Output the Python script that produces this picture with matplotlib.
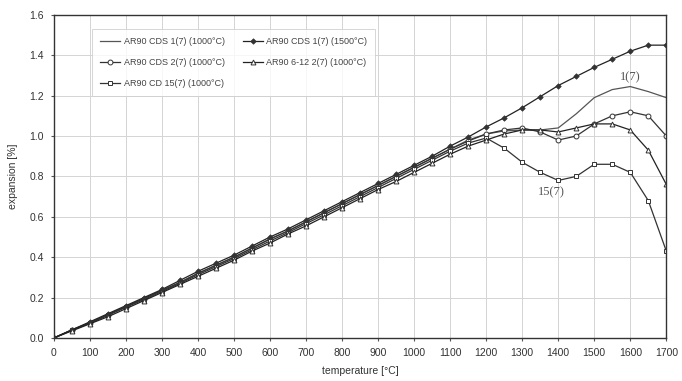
import numpy as np
import matplotlib.pyplot as plt

plt.rcParams['font.family'] = ['Liberation Sans', 'DejaVu Sans']

# ---- data ----------------------------------------------------------------
temps = list(range(0, 1701, 50))

cds1_1000 = [0.0, 0.04, 0.075, 0.115, 0.155, 0.195, 0.235, 0.275, 0.32, 0.36,
             0.40, 0.445, 0.49, 0.53, 0.575, 0.62, 0.665, 0.71, 0.755, 0.80,
             0.845, 0.89, 0.935, 0.98, 1.01, 1.025, 1.03, 1.03, 1.04, 1.11,
             1.19, 1.23, 1.245, 1.22, 1.19]
cds1_1500 = [0.0, 0.04, 0.08, 0.12, 0.16, 0.20, 0.24, 0.285, 0.33, 0.37,
             0.41, 0.455, 0.50, 0.54, 0.585, 0.63, 0.675, 0.72, 0.765, 0.81,
             0.855, 0.90, 0.95, 0.995, 1.045, 1.09, 1.14, 1.195, 1.25, 1.295,
             1.34, 1.38, 1.42, 1.45, 1.45]
cds2_1000 = [0.0, 0.04, 0.075, 0.115, 0.155, 0.195, 0.235, 0.275, 0.32, 0.36,
             0.40, 0.445, 0.49, 0.53, 0.575, 0.62, 0.665, 0.71, 0.755, 0.80,
             0.845, 0.89, 0.935, 0.975, 1.01, 1.03, 1.04, 1.02, 0.98, 1.00,
             1.06, 1.10, 1.12, 1.10, 1.00]
ar612_1000 = [0.0, 0.035, 0.07, 0.105, 0.145, 0.185, 0.225, 0.265, 0.305, 0.345,
              0.385, 0.43, 0.47, 0.515, 0.555, 0.60, 0.645, 0.69, 0.735, 0.775,
              0.82, 0.865, 0.91, 0.95, 0.98, 1.01, 1.03, 1.03, 1.02, 1.04,
              1.06, 1.06, 1.03, 0.93, 0.76]
cd15_1000 = [0.0, 0.038, 0.073, 0.112, 0.152, 0.19, 0.23, 0.27, 0.313, 0.353,
             0.393, 0.437, 0.48, 0.522, 0.566, 0.61, 0.655, 0.70, 0.745, 0.79,
             0.835, 0.88, 0.925, 0.965, 0.99, 0.94, 0.87, 0.82, 0.78, 0.80,
             0.86, 0.86, 0.82, 0.68, 0.43]

labels = ["AR90 CDS 1(7) (1000°C)", "AR90 CDS 2(7) (1000°C)",
          "AR90 CD 15(7) (1000°C)", "AR90 CDS 1(7) (1500°C)",
          "AR90 6-12 2(7) (1000°C)"]

# ---- plot ----------------------------------------------------------------
fig = plt.figure(figsize=(6.82, 3.81), dpi=100)
ax = fig.add_axes([0.079, 0.113, 0.898, 0.848])

ax.plot(temps, cds1_1000, color="#555555", lw=0.9, label=labels[0])
ax.plot(temps, cds2_1000, color="#333333", lw=0.9, marker="o", ms=3.5,
        mfc="white", mec="#333333", mew=0.7, label=labels[1])
ax.plot(temps, cd15_1000, color="#333333", lw=0.9, marker="s", ms=3.5,
        mfc="white", mec="#333333", mew=0.7, label=labels[2])
ax.plot(temps, cds1_1500, color="#222222", lw=0.9, marker="D", ms=2.8,
        mfc="#333333", mec="#333333", mew=0.5, label=labels[3])
ax.plot(temps, ar612_1000, color="#222222", lw=0.9, marker="^", ms=3.5,
        mfc="white", mec="#333333", mew=0.7, label=labels[4])

ax.text(1600, 1.29, "1(7)", family="Liberation Serif", fontsize=9,
        color="#555555", ha="center", va="center")
ax.text(1380, 0.72, "15(7)", family="Liberation Serif", fontsize=9,
        color="#555555", ha="center", va="center")

ax.set_xlim(0, 1700)
ax.set_ylim(0, 1.6)
ax.set_xticks(range(0, 1701, 100))
ax.set_yticks(np.arange(0, 1.61, 0.2))
ax.set_yticklabels([f"{v:.1f}" for v in np.arange(0, 1.61, 0.2)])
ax.grid(True, color="#d4d4d4", lw=0.7)
ax.set_axisbelow(True)
ax.tick_params(labelsize=7.5, length=2, pad=5, color="#555555",
               labelcolor="#333333")
for s in ax.spines.values():
    s.set_color("#333333")
    s.set_linewidth(1.0)

ax.set_xlabel("temperature [°C]", fontsize=7.5, color="#333333", labelpad=6)
ax.set_ylabel("expansion [%]", fontsize=7.5, color="#333333", labelpad=8)

leg = ax.legend(ncol=2, loc="upper left", bbox_to_anchor=(0.055, 0.97),
                fontsize=6.5, frameon=True, fancybox=False, handlelength=2.2,
                columnspacing=2.0, labelspacing=1.3, borderpad=0.9,
                handletextpad=0.4)
leg.get_frame().set_edgecolor("#cccccc")
leg.get_frame().set_linewidth(0.7)
for t in leg.get_texts():
    t.set_color("#444444")

fig.savefig("out.png", dpi=100)
